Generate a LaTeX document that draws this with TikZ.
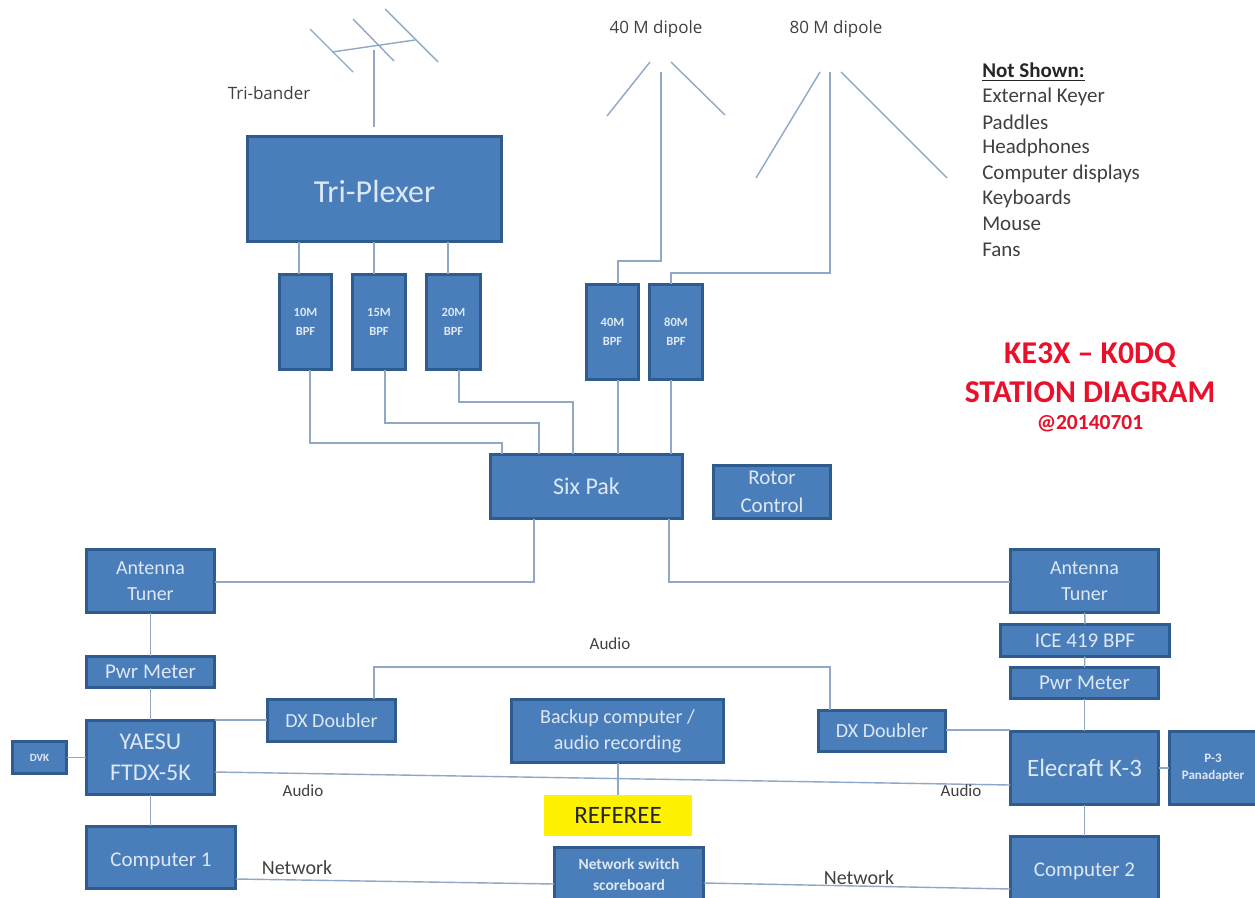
\documentclass[tikz,border=0pt]{standalone}
\usepackage{fontspec}
\setmainfont{Carlito}
\newfontfamily\labelfont{Open Sans}
\usetikzlibrary{calc}
\definecolor{boxfill}{HTML}{4A7EBB}
\definecolor{boxedge}{HTML}{2F5B8F}
\definecolor{boxtext}{HTML}{DDE8F4}
\definecolor{wire}{HTML}{8FA8C6}
\definecolor{titlered}{HTML}{E8102A}
\definecolor{labelgrey}{HTML}{404040}
\newcommand{\pxfont}[1]{\pgfmathsetmacro{\fpt}{#1*0.75}\pgfmathsetmacro{\lpt}{#1*0.98}\fontsize{\fpt pt}{\lpt pt}\selectfont}
\tikzset{
  hw/.style={draw=boxedge,fill=boxfill,line width=2pt,text=boxtext,align=center,inner sep=0pt,outer sep=0pt},
  ref/.style={hw,draw=none,fill=yellow,text=black!85},
  wirepath/.style={draw=wire,line width=1.05pt},
  lbl/.style={text=labelgrey,inner sep=0pt},
}
% name, x0, y0, x1, y1, font px, style, text
\newcommand{\stationbox}[8]{%
  \pgfmathsetmacro{\bw}{(#4-#2)*0.75-2}%
  \pgfmathsetmacro{\bh}{(#5-#3)*0.75-2}%
  \pgfmathsetmacro{\cx}{(#2+#4)/2}%
  \pgfmathsetmacro{\cy}{(#3+#5)/2}%
  \node[#7,font={\pxfont{#6}},minimum width=\bw pt,minimum height=\bh pt] (#1) at (\cx,\cy) {#8};%
}
\begin{document}
\begin{tikzpicture}[x=0.75pt,y=-0.75pt]
\clip (0,0) rectangle (1255,898);
\fill[white] (0,0) rectangle (1255,898);

% boxes
\stationbox{tri}{246}{135}{503}{243}{32}{hw}{\rule{0pt}{20pt}Tri-Plexer}
\stationbox{bten}{278}{273}{333}{371}{12.5}{hw}{\bfseries 10M\\[2pt]\bfseries BPF}
\stationbox{bfif}{351}{273}{407}{371}{12.5}{hw}{\bfseries 15M\\[2pt]\bfseries BPF}
\stationbox{btwe}{425}{273}{482}{371}{12.5}{hw}{\bfseries 20M\\[2pt]\bfseries BPF}
\stationbox{bfor}{585}{283}{640}{381}{12.5}{hw}{\bfseries 40M\\[2pt]\bfseries BPF}
\stationbox{beig}{648}{283}{704}{381}{12.5}{hw}{\bfseries 80M\\[2pt]\bfseries BPF}
\stationbox{six}{489}{453}{684}{520}{24}{hw}{Six Pak}
\stationbox{rotor}{712}{464}{832}{520}{21}{hw}{Rotor\\Control}
\stationbox{antl}{85}{548}{216}{614}{20}{hw}{Antenna\\Tuner}
\stationbox{pwrl}{85}{655}{216}{689}{21}{hw}{Pwr Meter}
\stationbox{yaesu}{85}{719}{216}{796}{24}{hw}{YAESU\\FTDX-5K}
\stationbox{dvk}{11}{740}{68}{775}{11}{hw}{\bfseries DVK}
\stationbox{dxl}{266}{698}{397}{743}{20}{hw}{DX Doubler}
\stationbox{backup}{510}{698}{725}{764}{20}{hw}{Backup computer /\\audio recording}
\stationbox{dxr}{817}{709}{947}{753}{20}{hw}{DX Doubler}
\stationbox{referee}{543}{794}{693}{837}{25}{ref}{REFEREE}
\stationbox{netsw}{553}{846}{705}{903}{15.5}{hw}{\bfseries Network switch\\\bfseries scoreboard}
\stationbox{compa}{85}{825}{237}{890}{21}{hw}{\rule{0pt}{16pt}Computer 1}
\stationbox{compb}{1009}{835}{1160}{903}{21}{hw}{\rule{0pt}{14pt}Computer 2}
\stationbox{elec}{1009}{730}{1160}{806}{25}{hw}{Elecraft K-3}
\stationbox{pthree}{1168}{730}{1258}{806}{13}{hw}{\bfseries P-3\\\bfseries Panadapter}
\stationbox{pwrr}{1009}{666}{1160}{700}{21}{hw}{Pwr Meter}
\stationbox{ice}{999}{623}{1171}{658}{21}{hw}{ICE 419 BPF}
\stationbox{antr}{1009}{548}{1160}{614}{20}{hw}{Antenna\\Tuner}

% antenna coordinates
\coordinate (boomA) at (332,52);
\coordinate (boomB) at (415,40);
\coordinate (mastTop) at (374,50);
\coordinate (mastEnd) at (374,127);
\coordinate (el1a) at (310,29); \coordinate (el1b) at (353,72);
\coordinate (el2a) at (353,19); \coordinate (el2b) at (394,61);
\coordinate (el3a) at (385,9);  \coordinate (el3b) at (438,62);
\coordinate (d4la) at (650,62); \coordinate (d4lb) at (607,116);
\coordinate (d4ra) at (671,62); \coordinate (d4rb) at (725,115);
\coordinate (d4f) at (661,72);
\coordinate (d8la) at (820,72); \coordinate (d8lb) at (756,178);
\coordinate (d8ra) at (841,72); \coordinate (d8rb) at (947,178);
\coordinate (d8f) at (830,72);

\draw[wirepath] (boomA) -- (boomB);
\draw[wirepath] (mastTop) -- (mastEnd);
\draw[wirepath] (el1a) -- (el1b);
\draw[wirepath] (el2a) -- (el2b);
\draw[wirepath] (el3a) -- (el3b);
\draw[wirepath] (d4la) -- (d4lb);
\draw[wirepath] (d4ra) -- (d4rb);
\draw[wirepath] (d8la) -- (d8lb);
\draw[wirepath] (d8ra) -- (d8rb);

% feed lines to BPFs
\coordinate (b4y) at (0,261);
\coordinate (b8y) at (0,273);
\coordinate (b4in) at ($(bfor.north)+(5.5,0)$);
\coordinate (b8in) at ($(beig.north)+(-5,0)$);
\draw[wirepath] (d4f) -- (d4f |- b4y) -- (b4in |- b4y) -- (b4in);
\draw[wirepath] (d8f) -- (d8f |- b8y) -- (b8in |- b8y) -- (b8in);

% triplexer to BPFs
\coordinate (tx1) at (299,0);\coordinate (tx2) at (374,0);\coordinate (tx3) at (448,0);
\draw[wirepath] (tri.south -| tx1) -- (bten.north -| tx1);
\draw[wirepath] (tri.south -| tx2) -- (bfif.north -| tx2);
\draw[wirepath] (tri.south -| tx3) -- (btwe.north -| tx3);

% BPFs to Six Pak
\coordinate (y10) at (0,443);\coordinate (y15) at (0,423);\coordinate (y20) at (0,402);
\coordinate (o10) at ($(bten.south)+(4.5,0)$);
\coordinate (o15) at ($(bfif.south)+(6,0)$);
\coordinate (o20) at ($(btwe.south)+(5.5,0)$);
\coordinate (i10) at ($(six.north)+(-84.5,0)$);
\coordinate (i15) at ($(six.north)+(-47.5,0)$);
\coordinate (i20) at ($(six.north)+(-13.5,0)$);
\coordinate (i40) at ($(six.north)+(31.5,0)$);
\coordinate (i80) at ($(six.north)+(84.5,0)$);
\draw[wirepath] (o10) -- (o10 |- y10) -- (i10 |- y10) -- (i10);
\draw[wirepath] (o15) -- (o15 |- y15) -- (i15 |- y15) -- (i15);
\draw[wirepath] (o20) -- (o20 |- y20) -- (i20 |- y20) -- (i20);
\draw[wirepath] (bfor.south -| i40) -- (i40);
\draw[wirepath] (beig.south -| i80) -- (i80);

% Six Pak to tuners
\coordinate (y6) at (0,582);
\coordinate (s1) at ($(six.south)+(-52.5,0)$);
\coordinate (s2) at ($(six.south)+(82.5,0)$);
\draw[wirepath] (s1) -- (s1 |- y6) -- (antl.east |- y6);
\draw[wirepath] (s2) -- (s2 |- y6) -- (antr.west |- y6);

% left chain
\draw[wirepath] (antl) -- (pwrl);
\draw[wirepath] (pwrl) -- (yaesu);
\draw[wirepath] (yaesu.south) -- (compa.north -| yaesu.south);
\draw[wirepath] (dvk) -- (yaesu);
\coordinate (dy) at (0,720);
\draw[wirepath] (yaesu.east |- dy) -- (dxl.west |- dy);

% right chain
\draw[wirepath] (antr) -- (ice);
\draw[wirepath] (ice) -- (pwrr);
\draw[wirepath] (pwrr) -- (elec);
\draw[wirepath] (elec) -- (compb);
\draw[wirepath] (elec) -- (pthree);
\coordinate (dy2) at (0,730);
\draw[wirepath] (dxr.east |- dy2) -- (elec.west |- dy2);

% audio
\coordinate (auy) at (0,667);
\coordinate (a1) at ($(dxl.north)+(42.5,0)$);
\coordinate (a2) at ($(dxr.north)+(-52,0)$);
\draw[wirepath] (a1) -- (a1 |- auy) -- (a2 |- auy) -- (a2);
\coordinate (au1) at (0,772);\coordinate (au2) at (0,785);
\draw[wirepath] (yaesu.east |- au1) -- (elec.west |- au2);
\coordinate (bk) at (618,0);
\draw[wirepath] (backup.south -| bk) -- (referee.north -| bk);

% network
\coordinate (n1) at (0,879);\coordinate (n2) at (0,884);\coordinate (n3) at (0,883);\coordinate (n4) at (0,889);
\draw[wirepath] (compa.east |- n1) -- (netsw.west |- n2);
\draw[wirepath] (netsw.east |- n3) -- (compb.west |- n4);

% labels
\node[lbl,font=\labelfont\pxfont{17}] (ltri) at (269,93) {Tri-bander};
\node[lbl,font=\labelfont\pxfont{17}] (l40) at (656,29) {40 M dipole};
\node[lbl,font=\labelfont\pxfont{17}] (l80) at (836,29) {80 M dipole};
\node[lbl,font=\pxfont{17}] (laud) at (610,644) {Audio};
\node[lbl,font=\pxfont{17}] (laul) at (303,791) {Audio};
\node[lbl,font=\pxfont{17}] (laur) at (961,791) {Audio};
\node[lbl,font=\pxfont{20}] (lnet1) at (297,868) {Network};
\node[lbl,font=\pxfont{20}] (lnet2) at (859,878) {Network};

\node[lbl,anchor=west,font=\pxfont{21},text=black!85] (ns0) at (982,72) {\textbf{\underline{Not Shown:}}};
\node[lbl,anchor=west,font=\pxfont{21}] (ns1) at (982,97) {External Keyer};
\node[lbl,anchor=west,font=\pxfont{21}] (ns2) at (982,122) {Paddles};
\node[lbl,anchor=west,font=\pxfont{21}] (ns3) at (982,148) {Headphones};
\node[lbl,anchor=west,font=\pxfont{21}] (ns4) at (982,174) {Computer displays};
\node[lbl,anchor=west,font=\pxfont{21}] (ns5) at (982,199) {Keyboards};
\node[lbl,anchor=west,font=\pxfont{21}] (ns6) at (982,224) {Mouse};
\node[lbl,anchor=west,font=\pxfont{21}] (ns7) at (982,250) {Fans};

\node[lbl,text=titlered,font=\bfseries\pxfont{31.7}] (t1) at (1090,355) {KE3X – K0DQ};
\node[lbl,text=titlered,font=\bfseries\pxfont{31.7}] (t2) at (1090,392) {STATION DIAGRAM};
\node[lbl,text=titlered,font=\bfseries\pxfont{21.5}] (t3) at (1090,424) {@20140701};
\end{tikzpicture}
\end{document}
